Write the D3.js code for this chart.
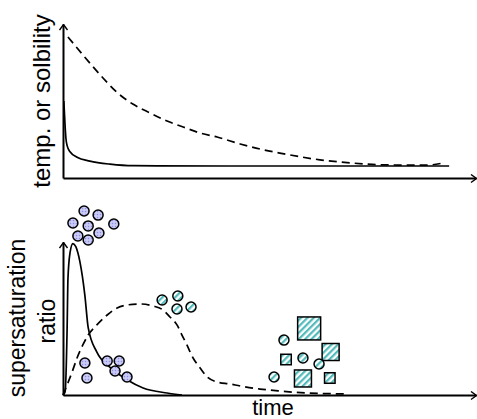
<!DOCTYPE html>
<html>
<head>
<meta charset="utf-8">
<script src="https://cdn.jsdelivr.net/npm/d3@7"></script>
<style>
  html, body { margin: 0; padding: 0; background: #fff; }
  svg { display: block; }
  text { font-family: "Liberation Sans", Arial, sans-serif; fill: #000; }
</style>
</head>
<body>
<svg id="chart" width="477" height="419"></svg>
<script>
// ---- Upper panel: temperature (solid) and solubility (dashed) vs time ----
const tempTime   = [0.2, 0.5, 0.7, 1.0, 1.7, 3.4, 6.5, 11.4, 17, 40, 93.5];
const tempValue  = [0.50, 0.34, 0.26, 0.21, 0.17, 0.135, 0.11, 0.09, 0.08, 0.078, 0.078];

const solubTime  = [1.2, 4.8, 9.0, 13.1, 16.9, 21.1, 25.2, 29.1, 33.2, 37.3, 42.9, 47.7, 52.5, 57.4, 62.2, 67.1, 72.6, 77.5, 83.3, 88.1, 92.0];
const solubValue = [0.916, 0.80, 0.67, 0.555, 0.48, 0.422, 0.37, 0.331, 0.292, 0.266, 0.221, 0.188, 0.162, 0.138, 0.118, 0.104, 0.092, 0.085, 0.084, 0.084, 0.097];

// ---- Lower panel: supersaturation ratio vs time ----
const fastTime   = [0, 0.5, 1.0, 1.2, 1.7, 2.4, 3.1, 4.1, 5.3, 6.1, 8.2, 11.4, 15.5, 19.4, 25.2, 28.8];
const fastValue  = [0, 0.02, 0.44, 0.76, 0.93, 0.99, 0.97, 0.87, 0.65, 0.44, 0.28, 0.18, 0.10, 0.046, 0.013, 0];

const slowTime   = [0, 0.5, 2.2, 3.4, 4.8, 6.1, 8.2, 10.7, 13.1, 15.5, 18.6, 21.8, 24.2, 25.9, 27.6, 28.8, 30.0, 31.5, 33.2, 34.9, 37.3, 40.4, 42.9, 47.7, 52.5, 59.1, 68.8];
const slowValue  = [0, 0.033, 0.15, 0.242, 0.327, 0.392, 0.458, 0.523, 0.569, 0.588, 0.595, 0.582, 0.556, 0.51, 0.458, 0.392, 0.327, 0.242, 0.176, 0.118, 0.085, 0.072, 0.059, 0.039, 0.026, 0.013, 0.007];

// Particles: amorphous nuclei (dotted lavender), crystalline particles (hatched teal)
const nucleiTime   = [5.1, 8.5, 2.4, 6.1, 12.3, 3.6, 8.7, 6.1, 5.3, 10.7, 13.6, 12.6, 15.5, 5.8];
const nucleiValue  = [1.203, 1.176, 1.124, 1.105, 1.118, 1.039, 1.059, 1.013, 0.209, 0.222, 0.222, 0.157, 0.118, 0.111];

const crystRoundTime  = [24.0, 27.8, 27.6, 31.0, 53.5, 58.1, 62.0, 51.1];
const crystRoundValue = [0.621, 0.647, 0.562, 0.575, 0.359, 0.242, 0.203, 0.118];

const crystSquareTime  = [59.6, 64.8, 54.0, 58.1, 64.6];
const crystSquareValue = [0.435, 0.281, 0.232, 0.108, 0.111];
const crystSquareClass = ["large", "medium", "small", "medium", "small"];

const axisLabels = { top: "temp. or solbility", bottom: ["supersaturation", "ratio"], x: "time" };

// ---- Layout ----
const svg = d3.select("#chart");
const x = d3.scaleLinear().domain([0, 100]).range([63, 476]);
const yTop = d3.scaleLinear().domain([0, 1]).range([178, 24]);
const yBot = d3.scaleLinear().domain([0, 1]).range([395, 242]);
const squareSide = d3.scaleOrdinal().domain(["large", "medium", "small"]).range([23, 17, 10.5]);

const defs = svg.append("defs");

// open chevron arrowhead for the axes
defs.append("marker")
  .attr("id", "arrow")
  .attr("viewBox", "-7 -5 8 10")
  .attr("refX", 0).attr("refY", 0)
  .attr("markerWidth", 8).attr("markerHeight", 10)
  .attr("markerUnits", "userSpaceOnUse")
  .attr("orient", "auto")
  .append("path")
  .attr("d", "M-5.5,-4 L0,0 L-5.5,4")
  .attr("fill", "none").attr("stroke", "#000").attr("stroke-width", 1.4);

// dotted lavender fill
const dots = defs.append("pattern")
  .attr("id", "dots").attr("patternUnits", "userSpaceOnUse")
  .attr("width", 3).attr("height", 3);
dots.append("rect").attr("width", 3).attr("height", 3).attr("fill", "#cacaf6");
dots.append("circle").attr("cx", 1.5).attr("cy", 1.5).attr("r", 0.75).attr("fill", "#8e8ee0");

// diagonal teal hatch
const hatch = defs.append("pattern")
  .attr("id", "hatch").attr("patternUnits", "userSpaceOnUse")
  .attr("width", 4.5).attr("height", 4.5)
  .attr("patternTransform", "rotate(45)");
hatch.append("rect").attr("width", 4.5).attr("height", 4.5).attr("fill", "#ffffff");
hatch.append("rect").attr("width", 2.2).attr("height", 4.5).attr("fill", "#52baba");

// ---- Axes (no ticks, arrow at the far end) ----
function drawAxes(yScale) {
  const gy = svg.append("g").attr("transform", `translate(${x.range()[0]},0)`)
    .call(d3.axisLeft(yScale).tickValues([]).tickSizeOuter(0));
  const gx = svg.append("g").attr("transform", `translate(0,${yScale.range()[0]})`)
    .call(d3.axisBottom(x).tickValues([]).tickSizeOuter(0));
  [gy, gx].forEach(g => g.select(".domain")
    .attr("stroke", "#000").attr("stroke-width", 2)
    .attr("marker-end", "url(#arrow)"));
}
drawAxes(yTop);
drawAxes(yBot);

// ---- Curves ----
function drawCurve(ts, vs, yScale, dashed) {
  const pts = ts.map((t, i) => [t, vs[i]]);
  const line = d3.line()
    .x(d => x(d[0])).y(d => yScale(d[1]))
    .curve(d3.curveMonotoneX);
  svg.append("path")
    .attr("d", line(pts))
    .attr("fill", "none")
    .attr("stroke", "#000")
    .attr("stroke-width", 1.7)
    .attr("stroke-dasharray", dashed ? "8,5" : null);
}
drawCurve(solubTime, solubValue, yTop, true);
drawCurve(tempTime, tempValue, yTop, false);
drawCurve(slowTime, slowValue, yBot, true);
drawCurve(fastTime, fastValue, yBot, false);

// ---- Particles ----
svg.append("g").selectAll("circle")
  .data(nucleiTime.map((t, i) => [t, nucleiValue[i]]))
  .join("circle")
  .attr("cx", d => x(d[0])).attr("cy", d => yBot(d[1])).attr("r", 5)
  .attr("fill", "url(#dots)").attr("stroke", "#000").attr("stroke-width", 1.5);

svg.append("g").selectAll("rect")
  .data(crystSquareTime.map((t, i) => [t, crystSquareValue[i], crystSquareClass[i]]))
  .join("rect")
  .attr("x", d => x(d[0]) - squareSide(d[2]) / 2)
  .attr("y", d => yBot(d[1]) - squareSide(d[2]) / 2)
  .attr("width", d => squareSide(d[2]))
  .attr("height", d => squareSide(d[2]))
  .attr("fill", "url(#hatch)").attr("stroke", "#000").attr("stroke-width", 1.5);

svg.append("g").selectAll("circle")
  .data(crystRoundTime.map((t, i) => [t, crystRoundValue[i]]))
  .join("circle")
  .attr("cx", d => x(d[0])).attr("cy", d => yBot(d[1])).attr("r", 5)
  .attr("fill", "url(#hatch)").attr("stroke", "#000").attr("stroke-width", 1.5);

// ---- Labels ----
svg.append("text")
  .attr("transform", "translate(50,101) rotate(-90)")
  .attr("text-anchor", "middle")
  .attr("font-size", 24)
  .text(axisLabels.top);

svg.append("text")
  .attr("transform", "translate(25,318) rotate(-90)")
  .attr("text-anchor", "middle")
  .attr("font-size", 23)
  .text(axisLabels.bottom[0]);

svg.append("text")
  .attr("transform", "translate(55,321) rotate(-90)")
  .attr("text-anchor", "middle")
  .attr("font-size", 23)
  .text(axisLabels.bottom[1]);

svg.append("text")
  .attr("x", 273).attr("y", 415)
  .attr("text-anchor", "middle")
  .attr("font-size", 22)
  .text(axisLabels.x);
</script>
</body>
</html>
